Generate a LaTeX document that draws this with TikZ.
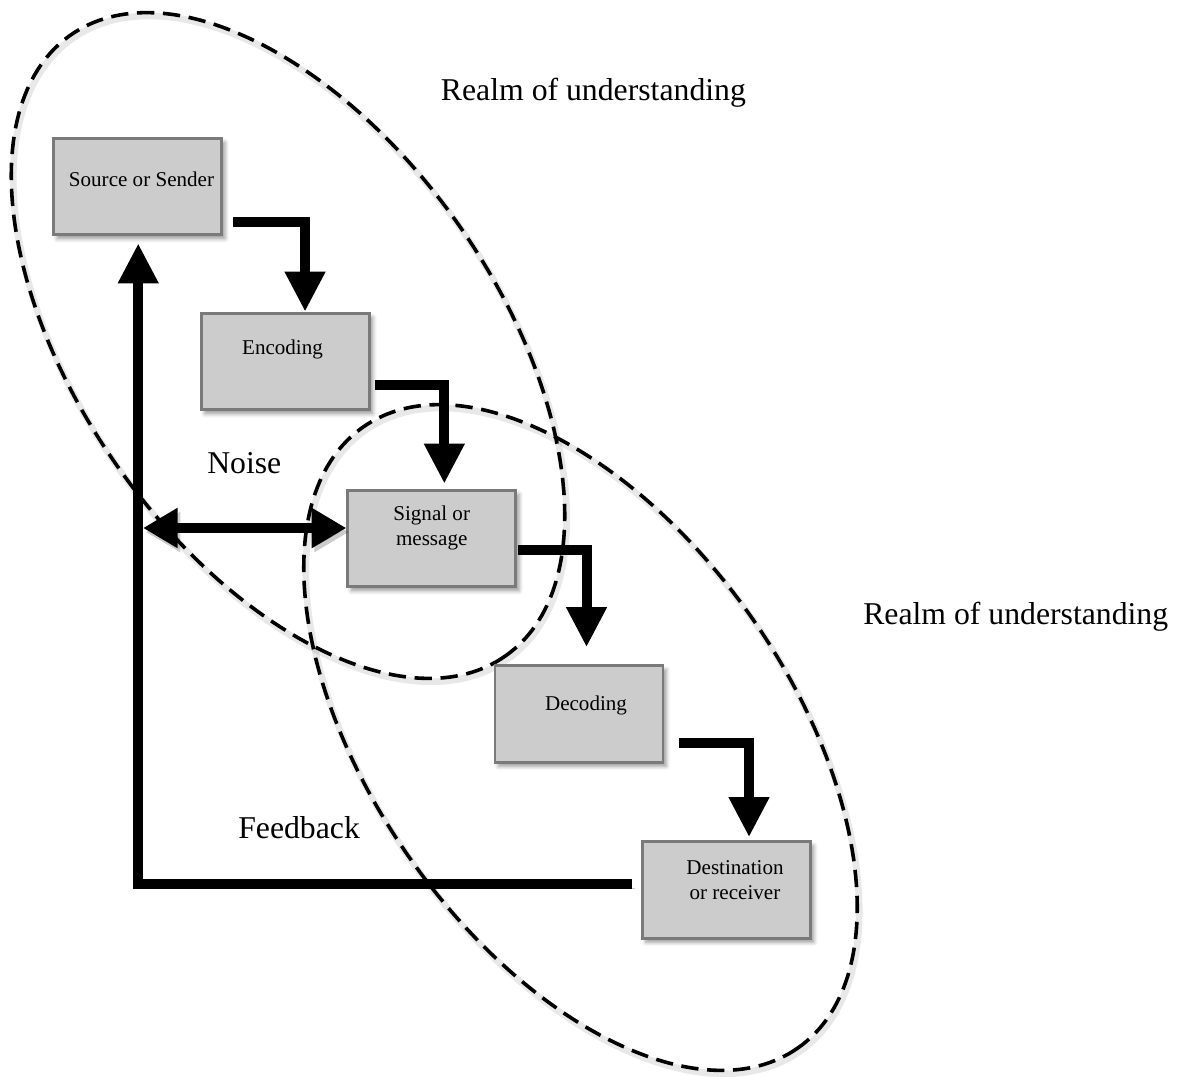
\documentclass[tikz,border=0pt]{standalone}
\usepackage{fontspec}
\setmainfont{Liberation Serif}
\usetikzlibrary{arrows.meta,calc,shadows.blur}

\definecolor{boxfill}{HTML}{CCCCCC}
\definecolor{boxedge}{HTML}{7A7A7A}

\begin{document}
\begin{tikzpicture}[x=0.75pt,y=-0.75pt,
  % grey process boxes with a soft shadow
  stagebox/.style={draw=boxedge, fill=boxfill, line width=2.2pt,
    minimum width=126pt, minimum height=72.5pt, inner sep=0pt,
    blur shadow={shadow xshift=2.5pt, shadow yshift=-3pt,
      shadow blur radius=3pt, shadow opacity=40}},
  boxtext/.style={font=\fontsize{15.8}{18.5}\selectfont, align=center, inner sep=0pt},
  bigtext/.style={font=\fontsize{23.8}{28}\selectfont, anchor=base west, inner sep=0pt},
  % heavy black connectors with a cast shadow
  castshadow/.style={preaction={draw=black, opacity=0.2,
    transform canvas={shift={(2pt,-3pt)}}}},
  flow/.style={line width=7.5pt, line join=miter,
    -{Triangle[length=30pt,width=28.5pt]}, castshadow},
  % dashed realm outlines
  realm/.style={line width=2.7pt, dash pattern=on 13pt off 6.5pt,
    preaction={draw=black, opacity=0.09, line width=5pt,
      transform canvas={shift={(1.5pt,-2.5pt)}}}},
]
\useasboundingbox (0,0) rectangle (1189,1076);

% realms of understanding
\draw[realm, rotate around={-55:(288,345.5)}] (288,345.5) ellipse [x radius=379, y radius=209];
\draw[realm, rotate around={-55:(580.5,737.5)}] (580.5,737.5) ellipse [x radius=379, y radius=209];

% stages
\node[stagebox] (src) at (137.7,186.5) {};
\node[stagebox] (enc) at (285.5,361.5) {};
\node[stagebox] (sig) at (431.8,538.5) {};
\node[stagebox] (dec) at (579,714) {};
\node[stagebox] (dst) at (726.5,890) {};

\node[boxtext, anchor=base] (srcT) at (141.5,186) {Source or Sender};
\node[boxtext, anchor=base] (encT) at (282.5,354) {Encoding};
\node[boxtext, anchor=north] (sigT) at (431.7,505.6) {Signal or\\message};
\node[boxtext, anchor=base] (decT) at (586,710) {Decoding};
\node[boxtext, anchor=north] (dstT) at (735,860.6) {Destination\\or receiver};

% forward flow
\draw[flow] ($(src.south east)+(10,-14)$) -| ($(enc.north west)+(105,0)$);
\draw[flow] ($(enc.south east)+(4,-26)$) -| ($(sig.north west)+(98,-5)$);
\draw[flow] ($(sig.south east)+(1,-38)$) -| ($(dec.north west)+(93,-17)$);
\draw[flow] ($(dec.south east)+(15,-21)$) -| ($(dst.north west)+(108,-3)$);

% feedback loop
\coordinate (fbend) at ($(dst.west)+(-9,-6)$);
\draw[flow] (fbend) -| ($(src.south west)+(86,7)$);

% noise
\coordinate (noiseL) at (143,528);
\draw[flow, {Triangle[length=26pt,width=28.5pt]}-{Triangle[length=26pt,width=28.5pt]}]
  (noiseL) -- ($(sig.west)+(0,-10.5)$);

% labels
\node[bigtext] (realmA) at (440.7,100.7) {Realm of understanding};
\node[bigtext] (realmB) at (863,624) {Realm of understanding};
\node[bigtext] (noise) at (207,473) {Noise};
\node[bigtext] (feedback) at (238,838) {Feedback};
\end{tikzpicture}
\end{document}
